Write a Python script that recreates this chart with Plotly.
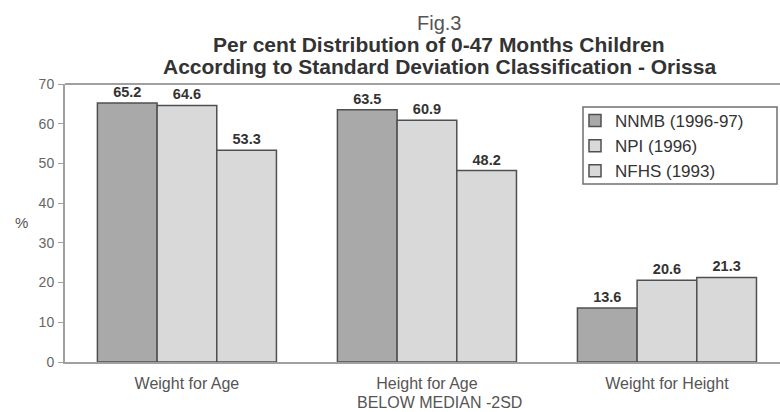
import plotly.graph_objects as go

categories = ["Weight for Age", "Height for Age", "Weight for Height"]
series_names = ["NNMB (1996-97)", "NPI (1996)", "NFHS (1993)"]
nnmb = [65.2, 63.5, 13.6]
npi = [64.6, 60.9, 20.6]
nfhs = [53.3, 48.2, 21.3]
y_ticks = [0, 10, 20, 30, 40, 50, 60, 70]

colors = ["#a9a9a9", "#d9d9d9", "#d9d9d9"]
FONT = "Liberation Sans, Arial, sans-serif"

FIG_W, FIG_H = 780, 412
PLOT_L, PLOT_T, PLOT_B, PLOT_R = 65, 84, 362, 780  # page pixels
PW, PH = PLOT_R - PLOT_L, PLOT_B - PLOT_T


def px_x(x):
    return (x - PLOT_L) / PW


def px_y(y):
    return (PLOT_B - y) / PH


fig = go.Figure()
for name, vals, col in zip(series_names, [nnmb, npi, nfhs], colors):
    fig.add_trace(go.Bar(
        x=categories, y=vals, name=name,
        marker=dict(color=col, line=dict(color="#505050", width=1.5)),
        text=[f"{v:.1f}" for v in vals], textposition="outside",
        textfont=dict(family=FONT, size=14.5, color="#333333"),
        texttemplate="<b>%{text}</b>", cliponaxis=False,
    ))

fig.update_layout(
    width=FIG_W, height=FIG_H,
    margin=dict(l=PLOT_L, r=FIG_W - PLOT_R, t=PLOT_T, b=FIG_H - PLOT_B, pad=0),
    paper_bgcolor="white", plot_bgcolor="white",
    barmode="group", bargap=0.254, bargroupgap=0,
    font=dict(family=FONT, color="#444444"),
    showlegend=True,
    legend=dict(
        x=px_x(575), y=px_y(103), xanchor="left", yanchor="top",
        borderwidth=0, bgcolor="rgba(0,0,0,0)",
        font=dict(family=FONT, size=17, color="#333333"),
        tracegroupgap=0, itemwidth=30,
    ),
    xaxis=dict(
        type="category", range=[-0.508, 2.471], automargin=False,
        showline=True, linecolor="#a0a0a0", linewidth=2,
        ticks="", tickfont=dict(family=FONT, size=16, color="#555555"),
        ticklabelstandoff=6,
        showgrid=False,
    ),
    yaxis=dict(
        range=[0, 70], tickvals=y_ticks, automargin=False,
        showline=True, linecolor="#a0a0a0", linewidth=2,
        ticks="outside", ticklen=5, tickcolor="#a0a0a0", tickwidth=1,
        tickfont=dict(family=FONT, size=14, color="#666666"),
        ticklabelstandoff=1,
        showgrid=False, zeroline=False,
    ),
    shapes=[
        # top frame line of the plot area
        dict(type="line", xref="paper", yref="paper", x0=0, x1=1, y0=1, y1=1,
             line=dict(color="#a0a0a0", width=2)),
        # legend box
        dict(type="rect", xref="paper", yref="paper",
             x0=px_x(583), x1=px_x(777), y0=px_y(184), y1=px_y(107),
             line=dict(color="#707070", width=1.5)),
    ],
)

title_lines = [
    ("Fig.3", 23, False),
    ("Per cent Distribution of 0-47 Months Children", 45, True),
    ("According to Standard Deviation Classification - Orissa", 67, True),
]
for txt, ypix, bold in title_lines:
    fig.add_annotation(text=f"<b>{txt}</b>" if bold else txt,
                       xref="paper", yref="paper", x=px_x(439), y=px_y(ypix),
                       showarrow=False, xanchor="center", yanchor="middle",
                       font=dict(family=FONT, size=21 if bold else 20,
                                 color="#333333" if bold else "#555555"))

fig.add_annotation(text="%", xref="paper", yref="paper", x=px_x(21), y=px_y(222),
                   showarrow=False, xanchor="center", yanchor="middle",
                   font=dict(family=FONT, size=15, color="#555555"))
fig.add_annotation(text="BELOW MEDIAN -2SD", xref="paper", yref="paper",
                   x=px_x(439), y=px_y(402), showarrow=False,
                   xanchor="center", yanchor="middle",
                   font=dict(family=FONT, size=16, color="#555555"))

fig.write_html(
    "out.html",
    config={"displayModeBar": False},
    post_script="document.body.style.margin='0';document.body.style.overflow='hidden';",
)
